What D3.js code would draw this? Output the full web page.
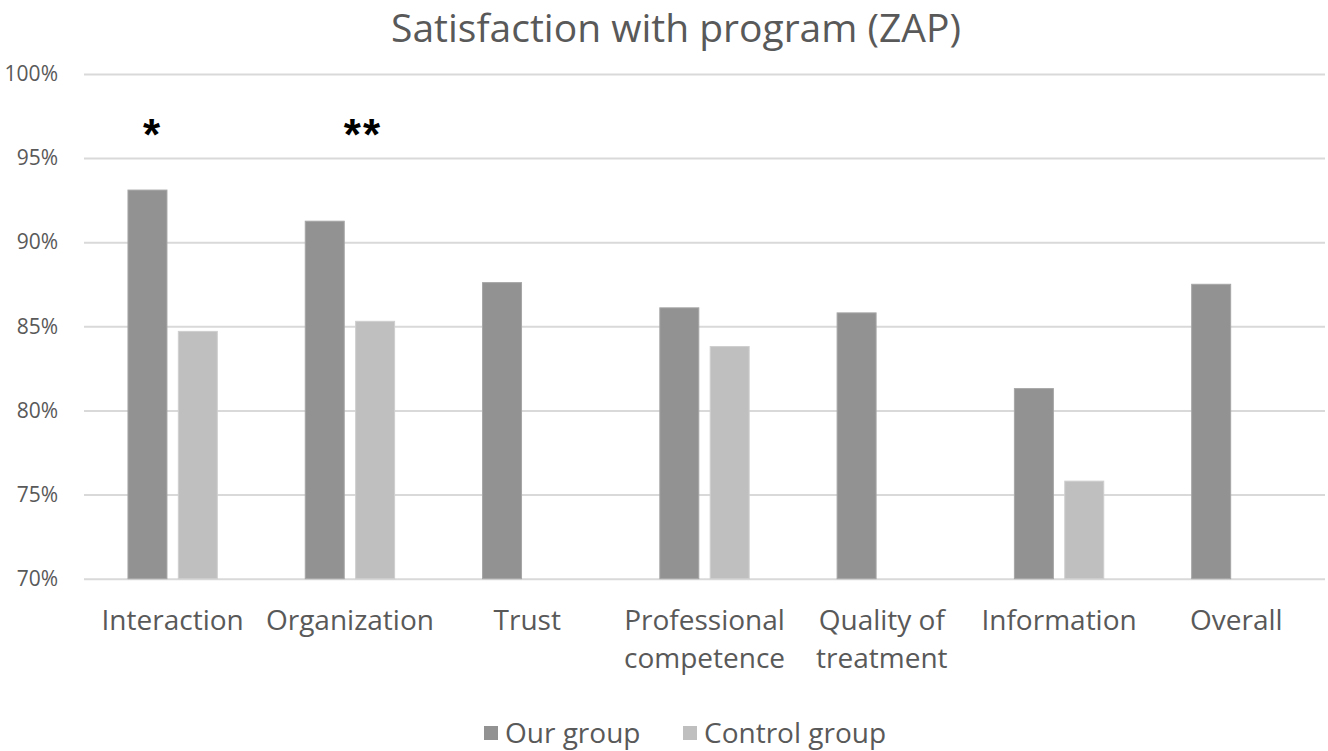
<!DOCTYPE html>
<html lang="en">
<head>
    <meta charset="UTF-8">
    <title>Satisfaction with program (ZAP)</title>
    <script src="https://cdnjs.cloudflare.com/ajax/libs/d3/7.8.5/d3.min.js"></script>
    <style>
        body { margin: 0; background: #fff; font-family: "Open Sans", Arial, sans-serif; }
        svg { display: block; }
        .axis text { fill: #595959; font-family: "Open Sans", Arial, sans-serif; }
    </style>
</head>
<body>
<div id="chart"></div>
<script>
    // data
    const categories = ["Interaction", "Organization", "Trust", "Professional competence", "Quality of treatment", "Information", "Overall"];
    const tickLabels = [["Interaction"], ["Organization"], ["Trust"], ["Professional", "competence"], ["Quality of", "treatment"], ["Information"], ["Overall"]];
    const seriesNames = ["Our group", "Control group"];
    const ourGroup = [0.931, 0.9125, 0.876, 0.861, 0.858, 0.813, 0.875];
    const controlGroup = [0.847, 0.853, null, 0.838, null, 0.758, null];
    const yTicks = [0.70, 0.75, 0.80, 0.85, 0.90, 0.95, 1.00];
    const significance = [
        { category: "Interaction", text: "*", dx: -20 },
        { category: "Organization", text: "**", dx: 13 }
    ];

    const width = 1328, height = 751;
    const margin = { top: 74, right: 3, bottom: 172, left: 84 };
    const colors = { "Our group": "#929292", "Control group": "#bfbfbf" };
    const strokes = { "Our group": "#a6a6a6", "Control group": "#cfcfcf" };

    const svg = d3.select("#chart").append("svg")
        .attr("width", width)
        .attr("height", height);

    const x0 = d3.scaleBand()
        .domain(categories)
        .range([margin.left, width - margin.right])
        .padding(0);

    const x1 = d3.scaleBand()
        .domain(seriesNames)
        .range([0, x0.bandwidth()])
        .paddingInner(0.226)
        .paddingOuter(0.873);

    const y = d3.scaleLinear()
        .domain([0.7, 1.0])
        .range([height - margin.bottom - 0.3, margin.top]);

    // title
    svg.append("text")
        .attr("x", width / 2 + 12)
        .attr("y", 42)
        .attr("text-anchor", "middle")
        .attr("fill", "#595959")
        .style("font-size", "39px")
        .text("Satisfaction with program (ZAP)");

    // gridlines + y labels
    const yAxis = svg.append("g")
        .attr("class", "axis")
        .attr("font-family", null)
        .attr("transform", `translate(${margin.left},0)`)
        .call(d3.axisLeft(y).tickValues(yTicks).tickFormat(d3.format(".0%"))
            .tickSize(-(width - margin.left - margin.right)).tickPadding(26));
    yAxis.select(".domain").remove();
    yAxis.selectAll(".tick line").attr("stroke", "#d9d9d9").attr("stroke-width", 2);
    yAxis.selectAll(".tick text").style("font-size", "21px");

    // bars
    const rows = categories.map((c, i) => ({ category: c, values: [
        { series: "Our group", value: ourGroup[i] },
        { series: "Control group", value: controlGroup[i] }
    ]}));

    svg.append("g")
        .selectAll("g")
        .data(rows)
        .join("g")
        .attr("transform", d => `translate(${x0(d.category)},0)`)
        .selectAll("rect")
        .data(d => d.values.filter(v => v.value != null))
        .join("rect")
        .attr("x", d => x1(d.series))
        .attr("width", x1.bandwidth())
        .attr("y", d => y(d.value))
        .attr("height", d => y(0.7) - y(d.value))
        .attr("fill", d => colors[d.series])
        .attr("stroke", d => strokes[d.series])
        .attr("stroke-width", 1);

    // category labels
    const xAxis = svg.append("g")
        .attr("class", "axis")
        .attr("transform", `translate(0,${y(0.7)})`)
        .call(d3.axisBottom(x0).tickSize(0).tickPadding(0));
    xAxis.select(".domain").remove();
    xAxis.selectAll(".tick text").each(function(d, i) {
        const t = d3.select(this).text(null).attr("y", 0).attr("dy", null)
            .style("font-size", "28px");
        tickLabels[i].forEach((line, k) => {
            t.append("tspan")
                .attr("x", 0)
                .attr("y", 51 + k * 38)
                .text(line);
        });
    });

    // significance marks
    svg.append("g")
        .selectAll("text")
        .data(significance)
        .join("text")
        .attr("x", d => x0(d.category) + x0.bandwidth() / 2 + d.dx)
        .attr("y", y(0.955))
        .attr("text-anchor", "middle")
        .attr("fill", "#000")
        .style("font-family", "'Liberation Sans', Arial, sans-serif")
        .style("font-weight", "bold")
        .style("font-size", "44px")
        .style("letter-spacing", "2px")
        .text(d => d.text);

    // legend
    const legendX = [484, 683];
    const legend = svg.append("g")
        .selectAll("g")
        .data(seriesNames)
        .join("g")
        .attr("transform", (d, i) => `translate(${legendX[i]},733)`);
    legend.append("rect")
        .attr("x", 0).attr("y", -7)
        .attr("width", 14).attr("height", 14)
        .attr("fill", d => colors[d]);
    legend.append("text")
        .attr("x", 21)
        .attr("y", 10)
        .attr("fill", "#595959")
        .style("font-size", "28px")
        .text(d => d);
</script>
</body>
</html>
